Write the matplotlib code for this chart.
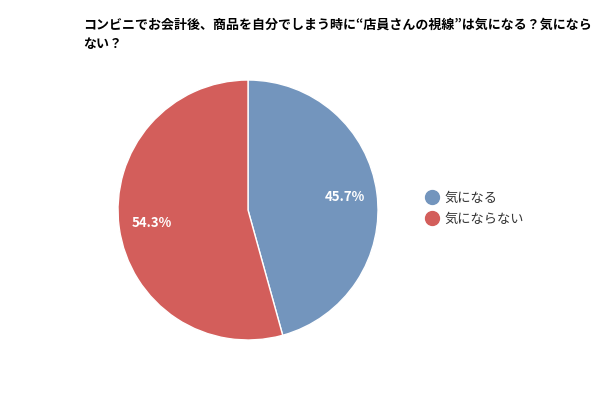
import matplotlib.pyplot as plt
from matplotlib.lines import Line2D

plt.rcParams['font.family'] = ['Noto Sans CJK JP', 'DejaVu Sans']

labels = ['気になる', '気にならない']
values = [45.7, 54.3]
colors = ['#7395bd', '#d35e5b']
title = 'コンビニでお会計後、商品を自分でしまう時に“店員さんの視線”は気になる？気になら\nない？'

fig = plt.figure(figsize=(6, 4), dpi=100)
ax = fig.add_axes([0.1967, 0.15, 0.4333, 0.65])
wedges, texts, autotexts = ax.pie(
    values, colors=colors, startangle=90, counterclock=False,
    autopct='%.1f%%', pctdistance=0.75,
    wedgeprops=dict(edgecolor='white', linewidth=1),
    textprops=dict(color='white', fontsize=9.5, fontweight='bold'))
ax.set_xlim(-1, 1)
ax.set_ylim(-1, 1)
ax.set_aspect('equal')

fig.text(83 / 600, 1 - 18 / 400, title, ha='left', va='top',
         fontsize=9.35, fontweight='bold', linespacing=1.45)

handles = [Line2D([], [], marker='o', linestyle='', markersize=10,
                  markerfacecolor=c, markeredgecolor=c) for c in colors]
fig.legend(handles, labels, loc='center left',
           bbox_to_anchor=(412 / 600, 1 - 209 / 400), frameon=False,
           fontsize=9.5, handletextpad=0.35, labelspacing=0.6,
           handlelength=1.2, labelcolor='#333333')

fig.savefig('out.png', dpi=100)
